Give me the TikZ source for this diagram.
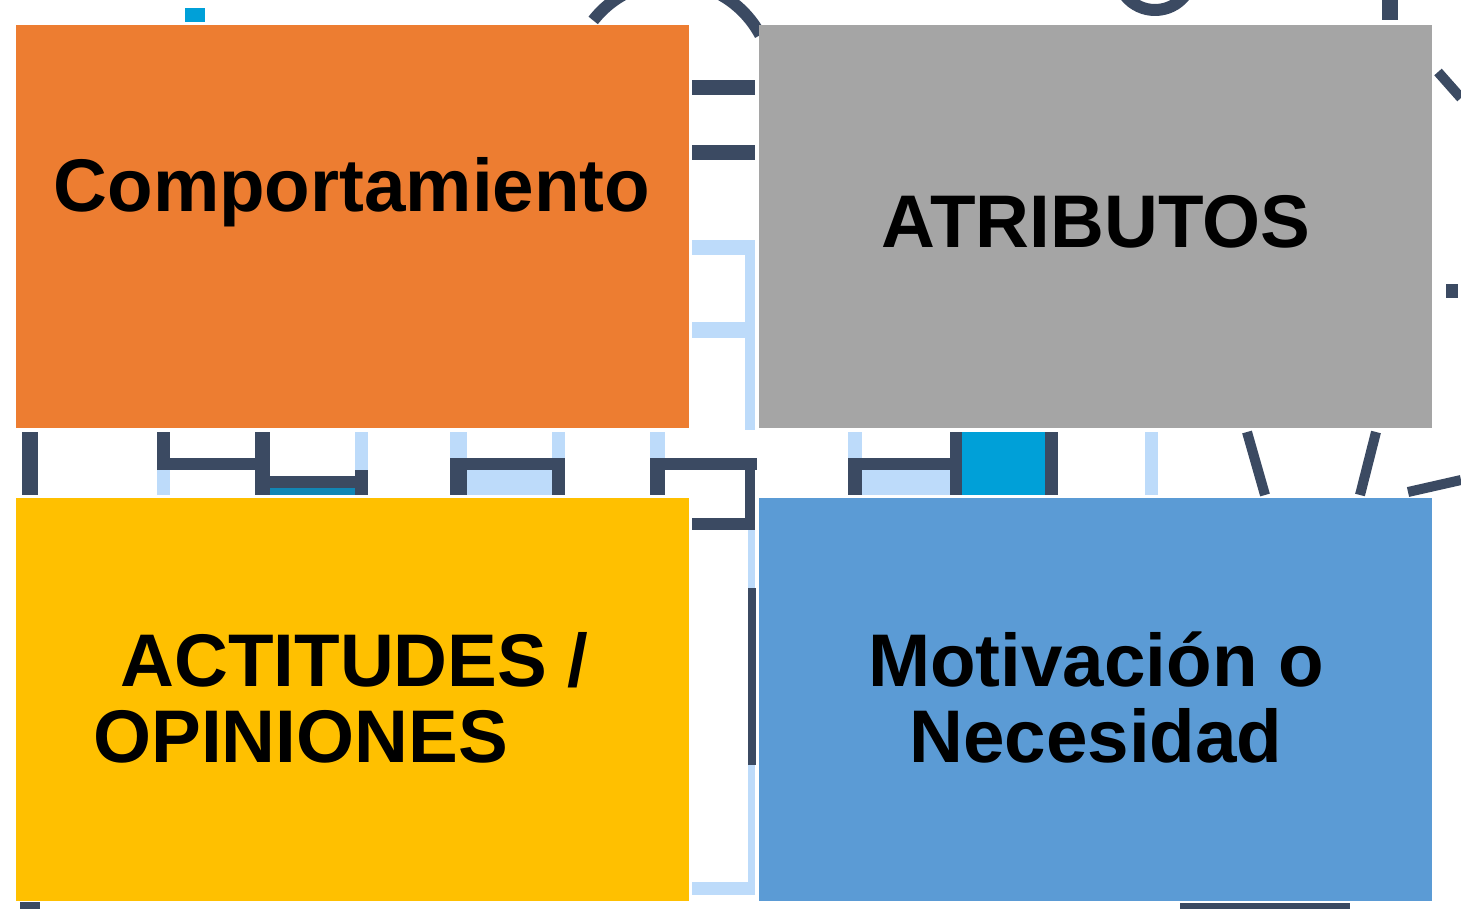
\documentclass[tikz,border=0pt]{standalone}
\usepackage{fontspec}
\setmainfont{Liberation Sans}
\usepackage{tikz}
\usetikzlibrary{positioning}
\definecolor{compfill}{HTML}{ED7D31}
\definecolor{atrfill}{HTML}{A5A5A5}
\definecolor{actfill}{HTML}{FFC000}
\definecolor{motfill}{HTML}{5B9BD5}
\definecolor{darkline}{HTML}{3B4A62}
\definecolor{lightline}{HTML}{BDDBFA}
\definecolor{cyanfill}{HTML}{00A0D8}
\tikzset{
  cell/.style={inner sep=0pt, minimum width=336.5pt, minimum height=201.5pt, draw=none},
  label/.style={inner sep=0pt, font=\fontsize{37.3}{39}\selectfont\bfseries}
}

\begin{document}
\begin{tikzpicture}[x=0.5pt,y=-0.5pt]
\useasboundingbox (0,0) rectangle (1461,909);
% background fragments
\fill[cyanfill] (185,8) rectangle (205,22);
\draw[darkline, line width=6pt] (672,82) ++(218:100) arc (218:332:100);
\draw[darkline, line width=6pt] (1155,-28) ++(30:38) arc (30:150:38);
\fill[darkline] (1382,0) rectangle (1398,20);
\draw[darkline, line width=5pt] (1438,72) -- (1461,98);
\fill[darkline] (1446,284) rectangle (1458,298);
\fill[darkline] (692,80) rectangle (755,95);
\fill[darkline] (692,145) rectangle (755,160);
\fill[lightline] (692,240) rectangle (755,255);
\fill[lightline] (745,245) rectangle (755,430);
\fill[lightline] (692,322) rectangle (745,338);
% row between the boxes, left
\fill[darkline] (22,432) rectangle (38,495);
\fill[darkline] (157,432) rectangle (170,470);
\fill[lightline] (157,470) rectangle (170,495);
\fill[darkline] (157,458) rectangle (260,470);
\fill[darkline] (255,432) rectangle (270,495);
\fill[cyanfill!70!darkline] (270,486) rectangle (355,495);
\fill[darkline] (255,476) rectangle (368,488);
\fill[lightline] (355,432) rectangle (368,470);
\fill[darkline] (355,470) rectangle (368,495);
\fill[lightline] (450,432) rectangle (467,458);
\fill[lightline] (552,432) rectangle (565,458);
\fill[lightline] (467,470) rectangle (552,495);
\fill[darkline] (450,458) rectangle (467,495);
\fill[darkline] (552,458) rectangle (565,495);
\fill[darkline] (450,458) rectangle (565,470);
\fill[lightline] (650,432) rectangle (665,458);
\fill[darkline] (650,458) rectangle (665,495);
\fill[darkline] (650,458) rectangle (757,470);
\fill[darkline] (745,458) rectangle (755,530);
\fill[darkline] (692,518) rectangle (755,530);
\fill[lightline] (748,530) rectangle (755,588);
\fill[darkline] (748,588) rectangle (756,765);
\fill[lightline] (748,765) rectangle (755,895);
\fill[lightline] (692,882) rectangle (755,895);
% row between the boxes, right
\fill[lightline] (848,432) rectangle (862,458);
\fill[darkline] (848,458) rectangle (862,495);
\fill[darkline] (848,458) rectangle (960,470);
\fill[lightline] (862,470) rectangle (950,495);
\fill[cyanfill] (960,432) rectangle (1045,495);
\fill[darkline] (950,432) rectangle (962,495);
\fill[darkline] (1045,432) rectangle (1058,495);
\fill[lightline] (1145,432) rectangle (1158,495);
\draw[darkline, line width=5pt] (1247,432) -- (1265,495);
\draw[darkline, line width=5pt] (1376,432) -- (1360,495);
\draw[darkline, line width=5pt] (1408,492) -- (1461,480);
\fill[darkline] (20,902) rectangle (40,909);
\fill[darkline] (1180,903) rectangle (1350,909);
% four boxes
\node[cell, fill=compfill] (comp) at (352.5,226.5) {};
\node[cell, fill=atrfill] (atr) at (1095.5,226.5) {};
\node[cell, fill=actfill] (act) at (352.5,699) {};
\node[cell, fill=motfill] (mot) at (1095.5,699) {};
% texts
\node[label, anchor=base] (comptext) at (352,212) {Comportamiento};
\node[label, anchor=base] (atrtext) at (1096,248) {ATRIBUTOS};
\node[label, anchor=base west] (acttext) at (120,686) {ACTITUDES /};
\node[label, anchor=base west] (opitext) at (93,762) {OPINIONES};
\node[label, anchor=base] (mottext) at (1096,686) {Motivación o};
\node[label, anchor=base] (nectext) at (1096,762) {Necesidad};
\end{tikzpicture}
\end{document}
